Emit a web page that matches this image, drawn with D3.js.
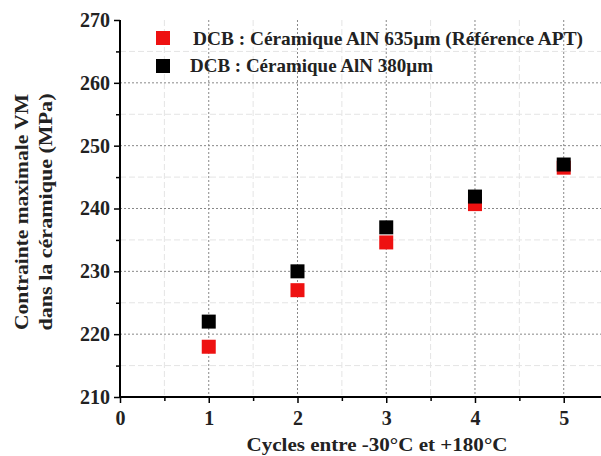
<!DOCTYPE html>
<html><head><meta charset="utf-8">
<script src="https://cdn.jsdelivr.net/npm/d3@7"></script>
<style>body{margin:0;background:#fff}svg{display:block}</style>
</head><body>
<script>
const cycles = [1, 2, 3, 4, 5];
const ref635 = [218, 227, 234.6, 240.7, 246.5];
const thin380 = [222, 230, 237, 241.9, 247];
const seriesNames = ["DCB : Céramique AlN 635µm (Référence APT)", "DCB : Céramique AlN 380µm"];
const xTicks = [0, 1, 2, 3, 4, 5];
const yTicks = [210, 220, 230, 240, 250, 260, 270];
const xMinor = [0.5, 1.5, 2.5, 3.5, 4.5];
const yMinor = [215, 225, 235, 245, 255, 265];

const W = 601, H = 456;
const svg = d3.select("body").append("svg").attr("width", W).attr("height", H);
const x = d3.scaleLinear().domain([0, 5.42]).range([120, 601]);
const y = d3.scaleLinear().domain([210, 270]).range([397, 20]);
const serif = "'Times New Roman','Liberation Serif',serif";

// minor grid
const g = svg.append("g");
g.selectAll(".mgx").data(xMinor).join("line")
  .attr("x1", d => x(d)).attr("x2", d => x(d)).attr("y1", y(270)).attr("y2", y(210))
  .attr("stroke", "#e4e4e4").attr("stroke-width", 1).attr("stroke-dasharray", "6,3");
g.selectAll(".mgy").data(yMinor).join("line")
  .attr("x1", x(0)).attr("x2", W).attr("y1", d => y(d)).attr("y2", d => y(d))
  .attr("stroke", "#e4e4e4").attr("stroke-width", 1).attr("stroke-dasharray", "6,3");
// major grid
g.selectAll(".gx").data(xTicks.filter(d => d > 0)).join("line")
  .attr("x1", d => x(d)).attr("x2", d => x(d)).attr("y1", y(270)).attr("y2", y(210))
  .attr("stroke", "#888").attr("stroke-width", 1).attr("stroke-dasharray", "2,2");
g.selectAll(".gy").data(yTicks.filter(d => d > 210 && d < 270)).join("line")
  .attr("x1", x(0)).attr("x2", W).attr("y1", d => y(d)).attr("y2", d => y(d))
  .attr("stroke", "#888").attr("stroke-width", 1).attr("stroke-dasharray", "2,2");

// axes
const xAxis = svg.append("g").attr("transform", `translate(0,${y(210)})`)
  .call(d3.axisBottom(x).tickValues(xTicks).tickFormat(d3.format("d")).tickSize(6).tickPadding(8));
xAxis.select(".domain").attr("d", `M${x(0)},0H${W}`).attr("stroke-width", 2);
const xAxisMinor = svg.append("g").attr("transform", `translate(0,${y(210)})`)
  .call(d3.axisBottom(x).tickValues(xMinor).tickFormat("").tickSize(4));
xAxisMinor.select(".domain").remove();

const yAxis = svg.append("g").attr("transform", `translate(${x(0)},0)`)
  .call(d3.axisLeft(y).tickValues(yTicks).tickFormat(d3.format("d")).tickSize(6).tickPadding(4));
yAxis.select(".domain").attr("d", `M0,${y(270)}V${y(210) + 1}`).attr("stroke-width", 2);
const yAxisMinor = svg.append("g").attr("transform", `translate(${x(0)},0)`)
  .call(d3.axisLeft(y).tickValues(yMinor).tickFormat("").tickSize(4));
yAxisMinor.select(".domain").remove();

svg.selectAll(".tick line").attr("stroke", "#000").attr("stroke-width", 1.5);
svg.selectAll(".tick text").attr("font-family", serif).attr("font-weight", "bold")
  .attr("font-size", 20).attr("fill", "#222");

function label(sel, txt, len) {
  return sel.attr("font-family", serif).attr("font-weight", "bold").attr("font-size", 19)
    .attr("fill", "#222").attr("textLength", len).attr("lengthAdjust", "spacingAndGlyphs").text(txt);
}
// axis titles
label(svg.append("text").attr("x", 377).attr("y", 451).attr("text-anchor", "middle"),
  "Cycles entre -30°C et +180°C", 261);
label(svg.append("text").attr("transform", "translate(28,212) rotate(-90)").attr("text-anchor", "middle"),
  "Contrainte maximale VM", 236);
label(svg.append("text").attr("transform", "translate(52,212) rotate(-90)").attr("text-anchor", "middle"),
  "dans la céramique (MPa)", 237);

// points
const S = 14;
const series = [
  {vals: ref635, color: "#ee1111"},
  {vals: thin380, color: "#000000"}
];
series.forEach(s => {
  svg.append("g").selectAll("rect").data(cycles).join("rect")
    .attr("x", (d) => x(d) - S / 2).attr("y", (d, i) => y(s.vals[i]) - S / 2)
    .attr("width", S).attr("height", S).attr("fill", s.color);
});

// legend
const legLens = [390, 243];
const leg = svg.append("g");
seriesNames.forEach((name, i) => {
  leg.append("rect").attr("x", 156).attr("y", 31 + i * 28).attr("width", 14).attr("height", 14)
    .attr("fill", series[i].color);
  label(leg.append("text").attr("x", i === 0 ? 193 : 190).attr("y", 45 + i * 27), name, legLens[i]);
});
</script>
</body></html>
